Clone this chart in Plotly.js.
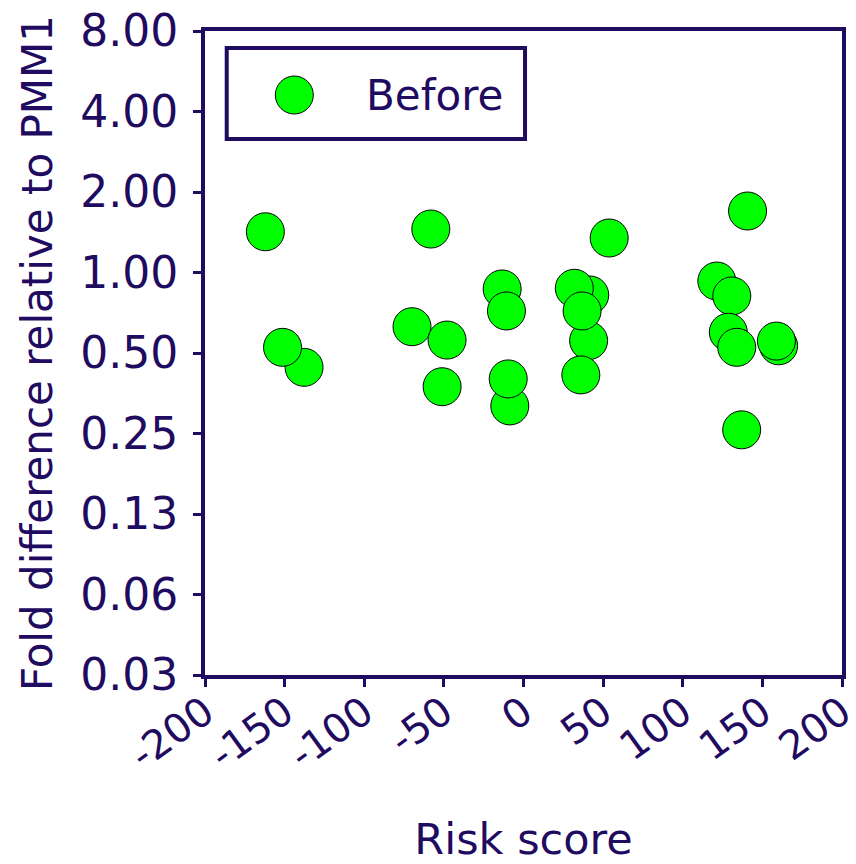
<!DOCTYPE html>
<html>
<head>
<meta charset="utf-8">
<script src="https://cdn.plot.ly/plotly-3.0.1.min.js"></script>
<style>html,body{margin:0;padding:0;background:#fff;}#chart{width:856px;height:864px;}</style>
</head>
<body>
<div id="chart"></div>
<script>
// Data (Risk score vs fold difference, log2 axis)
var seriesName = "Before";
var riskScore = [-162.1, -137.8, -151.3, -70, -58.2, -48, -51.1, -8.6, -9.6, -13.4, -10.7,
                 41.6, 31.9, 40.9, 36.8, 36, 53.8, 140.7, 121.4, 130.8, 128.6, 133.9, 137, 160.2, 158.8];
var foldDiff  = [1.42, 0.442, 0.525, 0.627, 1.454, 0.559, 0.374, 0.317, 0.400, 0.868, 0.718,
                 0.824, 0.873, 0.556, 0.718, 0.414, 1.346, 1.698, 0.929, 0.817, 0.598, 0.525, 0.258, 0.532, 0.554];
var yTickVals = [0.03125, 0.0625, 0.125, 0.25, 0.5, 1, 2, 4, 8];
var yTickText = ["0.03", "0.06", "0.13", "0.25", "0.50", "1.00", "2.00", "4.00", "8.00"];
var xTickVals = [-200, -150, -100, -50, 0, 50, 100, 150, 200];
var xTickText = ["-200", "-150", "-100", "-50", "0", "50", "100", "150", "200"];

var navy = "#1f0b5f";
var green = "#00ff00";
var fontFam = "DejaVu Sans, Verdana, sans-serif";

var trace = {
  type: "scatter",
  mode: "markers",
  name: seriesName,
  x: riskScore,
  y: foldDiff,
  marker: {size: 38, color: green, line: {color: "#000000", width: 1}},
  showlegend: false,
  hoverinfo: "x+y"
};

var layout = {
  width: 856, height: 864,
  margin: {l: 205, r: 14, t: 31, b: 189},
  paper_bgcolor: "#ffffff",
  plot_bgcolor: "#ffffff",
  font: {family: fontFam, size: 42, color: navy},
  showlegend: false,
  xaxis: {
    range: [-200, 200],
    tickvals: xTickVals,
    ticktext: xTickText,
    tickangle: -36,
    ticklabeloverflow: "allow",
    ticklabelstandoff: -14,
    ticks: "outside", ticklen: 8, tickwidth: 3, tickcolor: navy,
    showline: true, linecolor: navy, linewidth: 4, mirror: true,
    showgrid: false, zeroline: false,
    tickfont: {family: fontFam, size: 40, color: navy},
    title: {text: "Risk score", font: {family: fontFam, size: 43, color: navy}, standoff: 80}
  },
  yaxis: {
    type: "log",
    range: [Math.log10(0.03125), Math.log10(8)],
    tickvals: yTickVals,
    ticktext: yTickText,
    ticks: "outside", ticklen: 8, tickwidth: 3, tickcolor: navy,
    ticklabelstandoff: 6,
    showline: true, linecolor: navy, linewidth: 4, mirror: true,
    showgrid: false, zeroline: false,
    tickfont: {family: fontFam, size: 44, color: navy},
    title: {text: "Fold difference relative to PMM1", font: {family: fontFam, size: 42, color: navy}, standoff: 16}
  },
  shapes: [
    {type: "rect", xref: "paper", yref: "paper", x0: 0.0341, x1: 0.5024, y0: 0.8323, y1: 0.9736,
     line: {color: navy, width: 4}, fillcolor: "rgba(255,255,255,0)"},
    {type: "circle", xref: "paper", yref: "paper", xsizemode: "pixel", ysizemode: "pixel",
     xanchor: 0.1402, yanchor: 0.9006, x0: -19, x1: 19, y0: -19, y1: 19,
     fillcolor: green, line: {color: "#000000", width: 1}}
  ],
  annotations: [
    {xref: "paper", yref: "paper", x: 0.2498, y: 0.9006, xanchor: "left", yanchor: "middle",
     text: seriesName, showarrow: false, font: {family: fontFam, size: 42, color: navy}}
  ]
};

Plotly.newPlot("chart", [trace], layout, {displayModeBar: false, staticPlot: true});
</script>
</body>
</html>
